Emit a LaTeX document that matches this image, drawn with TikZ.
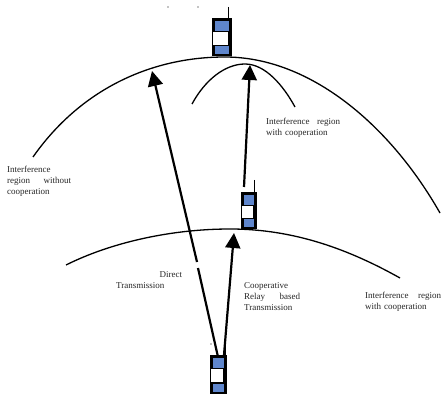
\documentclass[tikz,border=0pt]{standalone}
\usepackage{fontspec}
\setmainfont{Liberation Serif}
\usepackage{xcolor}
\usetikzlibrary{arrows.meta}
\definecolor{screenblue}{HTML}{5F86CC}
\tikzset{
  region/.style={line width=1.3pt},
  link/.style={line width=2.2pt, -{Triangle[length=15pt, width=15pt]}},
  caption/.style={font=\fontsize{9}{11}\selectfont, text=black!85, inner sep=0pt, anchor=north west, align=left},
  phonebody/.style={fill=black},
  phonescreen/.style={fill=screenblue},
  phonegap/.style={fill=white},
}
\begin{document}
\begin{tikzpicture}[x=1pt, y=-1pt]
\useasboundingbox (0,0) rectangle (441,395);
% interference regions
\draw [region] (33,157) .. controls (80,90) and (150,57) .. (225,57) .. controls (310,57) and (390,125) .. (440,213);
\draw [region] (192,104) .. controls (205,80) and (225,64) .. (245,64) .. controls (265,64) and (283,85) .. (295,107);
\draw [region] (66,265) .. controls (110,243) and (170,229) .. (230,229) .. controls (295,229) and (350,250) .. (400,278);
% phones: left, top, width, height
\foreach \px/\py/\pw/\ph in {212/18/20/38, 241/192/16/37, 210/355/17/39} {
  \fill [phonebody] (\px,\py) rectangle ++(\pw,\ph);
  \fill [phonescreen] (\px+3,\py+3) rectangle ++(\pw-6,{\ph*0.26});
  \fill [phonegap] (\px+1,\py+14) rectangle ++(\pw-5,{\ph*0.33});
  \fill [phonescreen] (\px+3,\py+\ph-10) rectangle ++(\pw-6,8);
}
\draw [line width=1.2pt] (228.5,7) -- (228.5,18);
\draw [line width=1.2pt] (254.5,180) -- (254.5,195);
\draw [line width=1.2pt] (225.5,345) -- (225.5,355);
% stray dots
\fill (168,7) circle[radius=0.6pt];
\fill (198,7) circle[radius=0.6pt];
\fill (211,344) circle[radius=0.6pt];
\coordinate (source) at (218,357);
\coordinate (sourceb) at (224,355);
\coordinate (relay) at (244,187);
\coordinate (far) at (152,71);
\coordinate (farb) at (250,65);
\coordinate (relayb) at (234,233);
\coordinate (breaka) at (198,268);
\coordinate (breakb) at (197,262);
% links
\draw [line width=2.2pt] (source) -- (breaka);
\draw [link] (breakb) -- (far);
\draw [link] (relay) -- (farb);
\draw [link] (sourceb) -- (relayb);
% labels
\node [caption, text width=76pt] (nocoop) at (7,166) {Interference\\\makebox[64pt][s]{region\hfill without}\\cooperation};
\node [caption, text width=90pt] (coopa) at (266,118) {\makebox[74pt][s]{Interference\hfill region}\\with cooperation};
\node [caption, text width=66pt] (direct) at (116,271) {\hfill Direct\\Transmission\hfill\null};
\node [caption, text width=56pt] (relaytext) at (244,282) {Cooperative\\Relay\hfill based\\Transmission};
\node [caption, text width=76pt] (coopb) at (365,292) {Interference\hfill region\\with cooperation};
\end{tikzpicture}
\end{document}
